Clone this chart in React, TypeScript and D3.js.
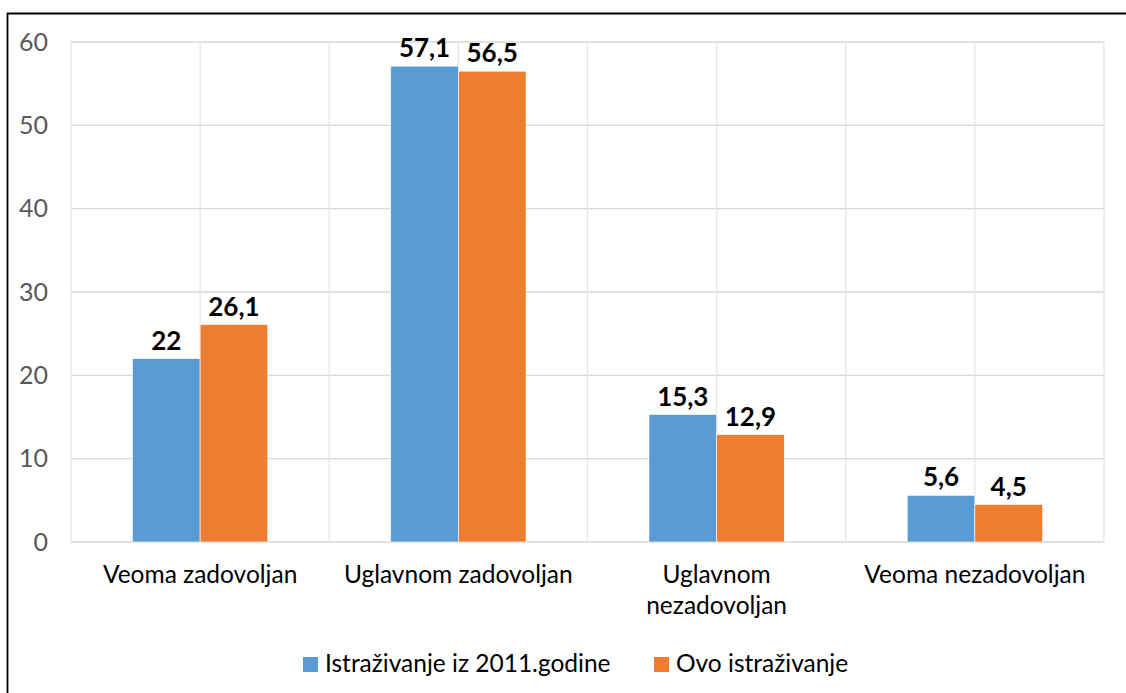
import React from 'react';
import * as d3 from 'd3';

const categories = ['Veoma zadovoljan', 'Uglavnom zadovoljan', 'Uglavnom nezadovoljan', 'Veoma nezadovoljan'];
const categoryLines = [['Veoma zadovoljan'], ['Uglavnom zadovoljan'], ['Uglavnom', 'nezadovoljan'], ['Veoma nezadovoljan']];
const seriesNames = ['Istraživanje iz 2011.godine', 'Ovo istraživanje'];
const series2011 = [22, 57.1, 15.3, 5.6];
const seriesNow = [26.1, 56.5, 12.9, 4.5];
const yTicks = [0, 10, 20, 30, 40, 50, 60];
const colors = ['#5B9BD5', '#ED7D31'];

const W = 1126;
const H = 693;
const FONT = 'Lato, "Noto Sans", sans-serif';

const App: React.FC = () => {
  const margin = { left: 71, right: 22, top: 42, bottom: 151 };
  const plotBottom = H - margin.bottom;

  const x0 = d3.scaleBand<string>()
    .domain(categories)
    .range([margin.left, W - margin.right])
    .padding(0);
  const groupW = x0.bandwidth() * 0.524;
  const x1 = d3.scaleBand<number>()
    .domain([0, 1])
    .range([-groupW / 2, groupW / 2]);
  const y = d3.scaleLinear().domain([0, 60]).range([plotBottom, margin.top]);

  const values = [series2011, seriesNow];
  const fmt = (v: number) => String(v).replace('.', ',');

  // vertical grid at every half category
  const vLines = d3.range(0, categories.length * 2 + 1).map(i => margin.left + (i * x0.bandwidth()) / 2);

  const legendItems = [
    { name: seriesNames[0], x: 303 },
    { name: seriesNames[1], x: 654 },
  ];

  return (
    <svg width={W} height={H} style={{ position: 'absolute', left: 0, top: 0, background: '#fff' }} fontFamily={FONT}>
      <rect x={0} y={0} width={W} height={H} fill="#fff" />
      <path d={`M7.5,${H + 5} V13.5 H${W + 5}`} fill="none" stroke="#000" strokeWidth={1.8} />

      <g>
        {yTicks.map(t => (
          <line key={t} x1={margin.left} x2={W - margin.right} y1={y(t)} y2={y(t)} stroke="#d9d9d9" strokeWidth={1.3} />
        ))}
        {vLines.map((vx, i) => (
          <line key={i} x1={vx} x2={vx} y1={margin.top} y2={plotBottom} stroke="#e6e6e6" strokeWidth={1.3} />
        ))}
      </g>

      <g fontSize={25} fill="#595959" textAnchor="end">
        {yTicks.map(t => (
          <text key={t} x={48} y={y(t)} dy="0.35em">{t}</text>
        ))}
      </g>

      {categories.map((c, ci) => {
        const cx = (x0(c) as number) + x0.bandwidth() / 2;
        return (
          <g key={c}>
            {values.map((vals, si) => (
              <rect
                key={si}
                x={cx + (x1(si) as number)}
                y={y(vals[ci])}
                width={x1.bandwidth()}
                height={plotBottom - y(vals[ci])}
                fill={colors[si]}
                stroke="#fff"
                strokeWidth={0.6}
              />
            ))}
            {values.map((vals, si) => (
              <text
                key={'l' + si}
                x={cx + (x1(si) as number) + x1.bandwidth() / 2}
                y={y(vals[ci]) - 9}
                textAnchor="middle"
                fontSize={26}
                fontWeight="bold"
                fill="#000"
              >
                {fmt(vals[ci])}
              </text>
            ))}
            <text x={cx} y={583} textAnchor="middle" fontSize={24.5} fill="#000">
              {categoryLines[ci].map((ln, li) => (
                <tspan key={li} x={cx} dy={li === 0 ? 0 : 31}>{ln}</tspan>
              ))}
            </text>
          </g>
        );
      })}

      <g>
        {legendItems.map((it, i) => (
          <g key={it.name}>
            <rect x={it.x} y={657} width={15} height={15} fill={colors[i]} />
            <text x={it.x + 22} y={672} fontSize={24.5} fill="#000">{it.name}</text>
          </g>
        ))}
      </g>
    </svg>
  );
};

export default App;
